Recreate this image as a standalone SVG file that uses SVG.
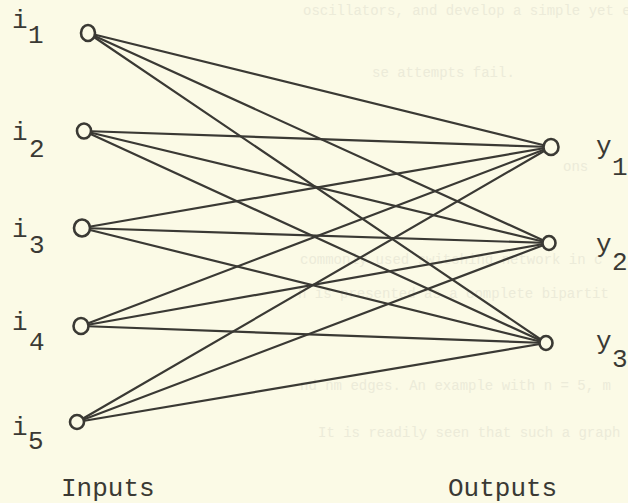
<svg xmlns="http://www.w3.org/2000/svg" width="628" height="503" viewBox="0 0 628 503">
  <style>
    .edge { stroke: #3a3934; stroke-width: 2.2; fill: none; stroke-linecap: round; }
    .node { fill: #fbfae6; stroke: #3a3934; stroke-width: 2.6; }
    .lbl { font-family: "Liberation Mono", "DejaVu Sans Mono", monospace; font-size: 26px; fill: #3a3934; }
    .ghost { font-family: "Liberation Mono", "DejaVu Sans Mono", monospace; font-size: 14px; fill: #ecebd9; }
  </style>

  <!-- paper -->
  <rect x="0" y="0" width="628" height="503" fill="#fbfae6"/>

  <!-- faint text showing through from the reverse side of the sheet -->
  <g id="show-through">
    <text class="ghost" x="303" y="15">oscillators, and develop a simple yet e</text>
    <text class="ghost" x="372" y="77">se attempts fail.</text>
    <text class="ghost" x="563" y="171">ons</text>
    <text class="ghost" x="300" y="264">commonly used switching network in c</text>
    <text class="ghost" x="298" y="298">h is presented as a complete bipartit</text>
    <text class="ghost" x="300" y="390">nd nm edges.  An example with n = 5, m</text>
    <text class="ghost" x="318" y="437">It is readily seen that such a graph</text>
  </g>

  <!-- complete bipartite connections: every input to every output -->
  <g id="edges">
    <line class="edge" x1="88" y1="33" x2="551" y2="147"/>
    <line class="edge" x1="88" y1="33" x2="549" y2="243"/>
    <line class="edge" x1="88" y1="33" x2="546" y2="343"/>
    <line class="edge" x1="84" y1="131" x2="551" y2="147"/>
    <line class="edge" x1="84" y1="131" x2="549" y2="243"/>
    <line class="edge" x1="84" y1="131" x2="546" y2="343"/>
    <line class="edge" x1="82" y1="228" x2="551" y2="147"/>
    <line class="edge" x1="82" y1="228" x2="549" y2="243"/>
    <line class="edge" x1="82" y1="228" x2="546" y2="343"/>
    <line class="edge" x1="81" y1="326" x2="551" y2="147"/>
    <line class="edge" x1="81" y1="326" x2="549" y2="243"/>
    <line class="edge" x1="81" y1="326" x2="546" y2="343"/>
    <line class="edge" x1="77" y1="422" x2="551" y2="147"/>
    <line class="edge" x1="77" y1="422" x2="549" y2="243"/>
    <line class="edge" x1="77" y1="422" x2="546" y2="343"/>
  </g>

  <!-- inputs -->
  <g id="i1">
    <ellipse class="node" cx="88" cy="33" rx="7" ry="8"/>
    <text class="lbl" x="12" y="28">i<tspan x="28" y="43">1</tspan></text>
  </g>
  <g id="i2">
    <ellipse class="node" cx="84" cy="131" rx="7" ry="7.5"/>
    <text class="lbl" x="12" y="140">i<tspan x="29" y="157">2</tspan></text>
  </g>
  <g id="i3">
    <ellipse class="node" cx="82" cy="228" rx="8" ry="8.5"/>
    <text class="lbl" x="12" y="237">i<tspan x="29" y="253">3</tspan></text>
  </g>
  <g id="i4">
    <ellipse class="node" cx="81" cy="326" rx="7.5" ry="8"/>
    <text class="lbl" x="12" y="330">i<tspan x="29" y="350">4</tspan></text>
  </g>
  <g id="i5">
    <ellipse class="node" cx="77" cy="422" rx="7" ry="7"/>
    <text class="lbl" x="12" y="435">i<tspan x="28" y="449">5</tspan></text>
  </g>

  <!-- outputs -->
  <g id="y1">
    <ellipse class="node" cx="551" cy="147" rx="7.5" ry="8"/>
    <text class="lbl" x="596" y="154">y<tspan x="612" y="175">1</tspan></text>
  </g>
  <g id="y2">
    <ellipse class="node" cx="549" cy="243" rx="6.5" ry="7"/>
    <text class="lbl" x="596" y="252">y<tspan x="612" y="270">2</tspan></text>
  </g>
  <g id="y3">
    <ellipse class="node" cx="546" cy="343" rx="6.5" ry="7"/>
    <text class="lbl" x="596" y="349">y<tspan x="612" y="367">3</tspan></text>
  </g>

  <!-- column captions -->
  <g id="captions">
    <text class="lbl" x="61" y="496">Inputs</text>
    <text class="lbl" x="448" y="496">Outputs</text>
  </g>
</svg>
